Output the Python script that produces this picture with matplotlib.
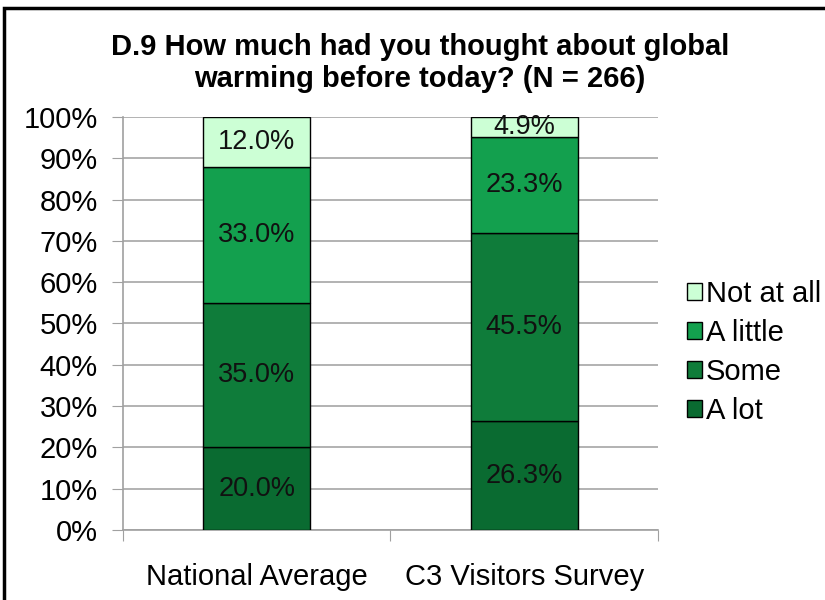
import matplotlib.pyplot as plt
import numpy as np
from matplotlib.patches import Rectangle

plt.rcParams['font.family'] = ['Liberation Sans', 'DejaVu Sans']

groups = ['National Average', 'C3 Visitors Survey']
levels = ['A lot', 'Some', 'A little', 'Not at all']
a_lot = [20.0, 26.3]
some = [35.0, 45.5]
a_little = [33.0, 23.3]
not_at_all = [12.0, 4.9]
colors = ['#0a6b31', '#0f7c3a', '#13a04e', '#ccffd5']

fig = plt.figure(figsize=(8.25, 6), dpi=100)
ax = fig.add_axes([0.149, 0.1167, 0.6485, 0.6883])

x = np.arange(len(groups))
bottom = np.zeros(len(groups))
bars = []
for vals, col, name in zip([a_lot, some, a_little, not_at_all], colors, levels):
    b = ax.bar(x, vals, 0.4, bottom=bottom, color=col, edgecolor='black',
               linewidth=1, label=name, zorder=3)
    for xi, v, b0 in zip(x, vals, bottom):
        ax.text(xi, b0 + v / 2, f'{v:.1f}%', ha='center', va='center',
                fontsize=19.5, color='#111111', zorder=4)
    bars.append(b)
    bottom += np.array(vals)

ax.set_xlim(-0.5, 1.5)
ax.set_ylim(0, 100)
ax.set_yticks(np.arange(0, 101, 10))
ax.set_yticklabels([f'{v}%' for v in range(0, 101, 10)], fontsize=21)
ax.set_xticks([-0.5, 0.5, 1.5], minor=False)
ax.set_xticklabels([])
ax.set_xticks(x, minor=True)
ax.set_xticklabels(groups, minor=True, fontsize=21)
ax.tick_params(axis='x', which='minor', length=0, pad=24)
ax.tick_params(axis='x', which='major', length=8, color='#a0a0a0')
ax.tick_params(axis='y', length=8, color='#a0a0a0', pad=10)
ax.yaxis.grid(True, color='#a6a6a6', linewidth=1.2, zorder=0)
for s in ['top', 'right']:
    ax.spines[s].set_visible(False)
for s in ['left', 'bottom']:
    ax.spines[s].set_color('#a0a0a0')
    ax.spines[s].set_linewidth(1.2)

handles = bars[::-1]
ax.legend(handles, levels[::-1], loc='center left', bbox_to_anchor=(1.0, 0.43),
          frameon=False, fontsize=21, handlelength=0.5, handleheight=0.5,
          handletextpad=0.15, labelspacing=0.38, borderaxespad=0.6)

fig.text(0.509, 0.895, 'D.9 How much had you thought about global\nwarming before today? (N = 266)',
         ha='center', va='center', fontsize=21, fontweight='bold', linespacing=1.15)

# outer frame
fig.patches.append(Rectangle((0.005, -0.05), 1.2, 1.037, transform=fig.transFigure,
                             fill=False, edgecolor='black', linewidth=2.5))

fig.savefig('out.png', dpi=100)
